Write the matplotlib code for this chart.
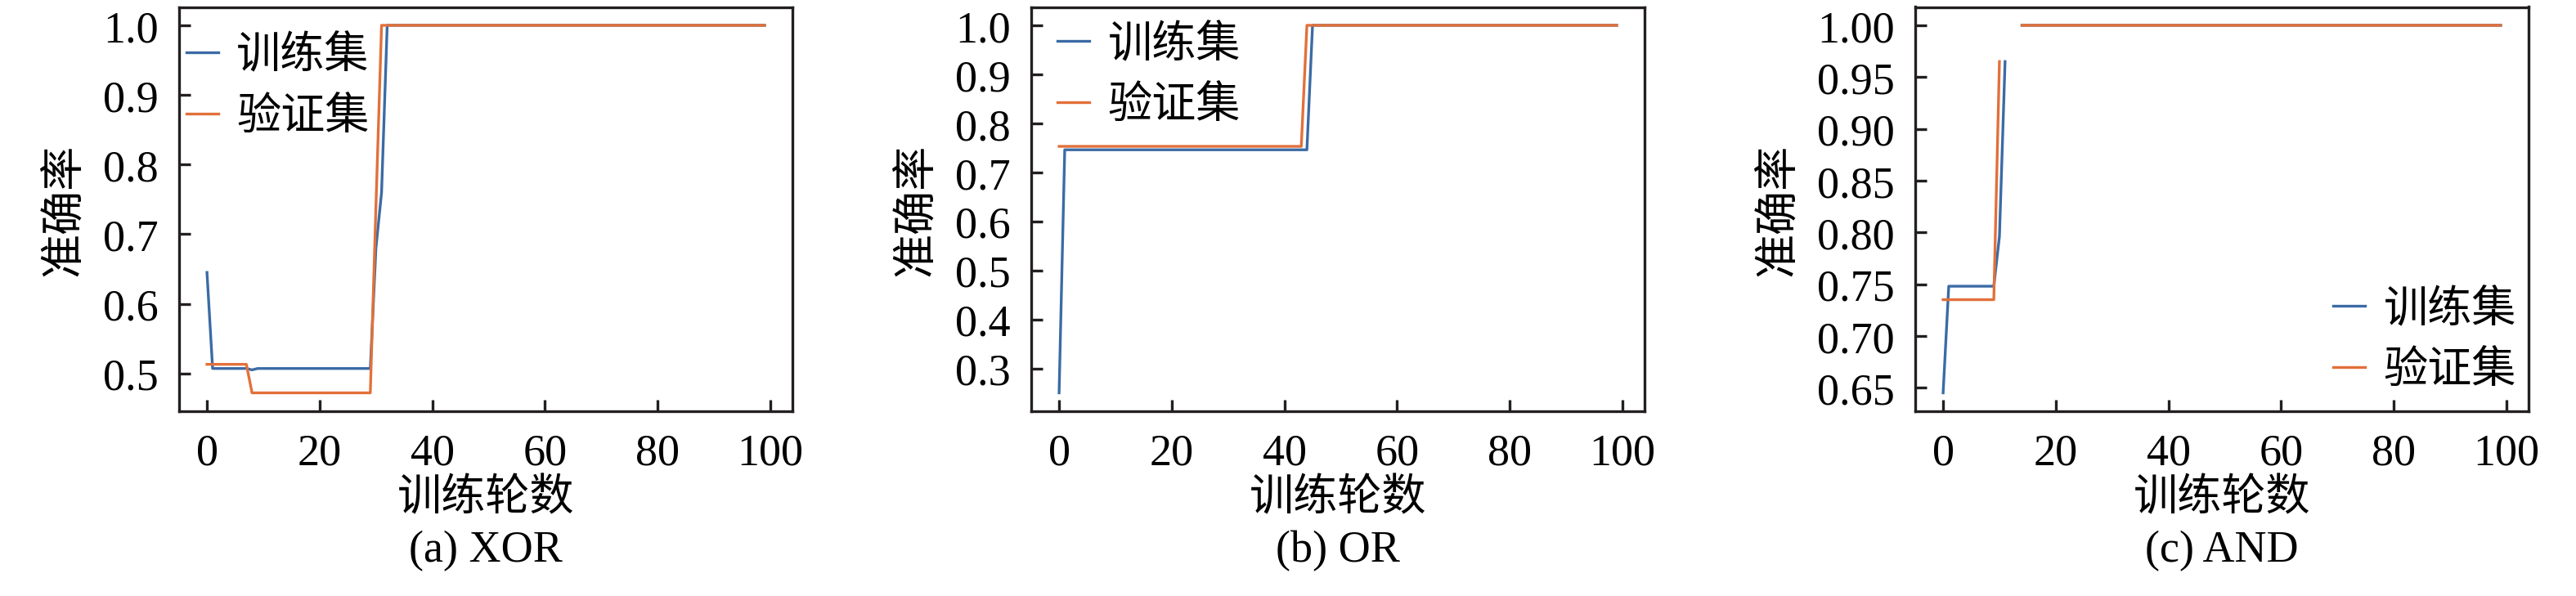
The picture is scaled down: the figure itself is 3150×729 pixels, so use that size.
import matplotlib
matplotlib.use('Agg')
import matplotlib.pyplot as plt

plt.rcParams['font.family'] = ['Liberation Serif', 'Noto Sans CJK SC']
plt.rcParams['font.size'] = 13
plt.rcParams['axes.unicode_minus'] = False

nan = float('nan')
epochs = list(range(100))

xor_train = [0.645, 0.507, 0.507, 0.507, 0.507, 0.507, 0.507, 0.507, 0.505, 0.507,
             0.507, 0.507, 0.507, 0.507, 0.507, 0.507, 0.507, 0.507, 0.507, 0.507,
             0.507, 0.507, 0.507, 0.507, 0.507, 0.507, 0.507, 0.507, 0.507, 0.507,
             0.68, 0.76, 1.0, 1.0, 1.0, 1.0, 1.0, 1.0, 1.0, 1.0,
             1.0, 1.0, 1.0, 1.0, 1.0, 1.0, 1.0, 1.0, 1.0, 1.0,
             1.0, 1.0, 1.0, 1.0, 1.0, 1.0, 1.0, 1.0, 1.0, 1.0,
             1.0, 1.0, 1.0, 1.0, 1.0, 1.0, 1.0, 1.0, 1.0, 1.0,
             1.0, 1.0, 1.0, 1.0, 1.0, 1.0, 1.0, 1.0, 1.0, 1.0,
             1.0, 1.0, 1.0, 1.0, 1.0, 1.0, 1.0, 1.0, 1.0, 1.0,
             1.0, 1.0, 1.0, 1.0, 1.0, 1.0, 1.0, 1.0, 1.0, 1.0]
xor_val = [0.513, 0.513, 0.513, 0.513, 0.513, 0.513, 0.513, 0.513, 0.472, 0.472,
           0.472, 0.472, 0.472, 0.472, 0.472, 0.472, 0.472, 0.472, 0.472, 0.472,
           0.472, 0.472, 0.472, 0.472, 0.472, 0.472, 0.472, 0.472, 0.472, 0.472,
           0.74, 1.0, 1.0, 1.0, 1.0, 1.0, 1.0, 1.0, 1.0, 1.0,
           1.0, 1.0, 1.0, 1.0, 1.0, 1.0, 1.0, 1.0, 1.0, 1.0,
           1.0, 1.0, 1.0, 1.0, 1.0, 1.0, 1.0, 1.0, 1.0, 1.0,
           1.0, 1.0, 1.0, 1.0, 1.0, 1.0, 1.0, 1.0, 1.0, 1.0,
           1.0, 1.0, 1.0, 1.0, 1.0, 1.0, 1.0, 1.0, 1.0, 1.0,
           1.0, 1.0, 1.0, 1.0, 1.0, 1.0, 1.0, 1.0, 1.0, 1.0,
           1.0, 1.0, 1.0, 1.0, 1.0, 1.0, 1.0, 1.0, 1.0, 1.0]

or_train = [0.25, 0.746, 0.746, 0.746, 0.746, 0.746, 0.746, 0.746, 0.746, 0.746,
            0.746, 0.746, 0.746, 0.746, 0.746, 0.746, 0.746, 0.746, 0.746, 0.746,
            0.746, 0.746, 0.746, 0.746, 0.746, 0.746, 0.746, 0.746, 0.746, 0.746,
            0.746, 0.746, 0.746, 0.746, 0.746, 0.746, 0.746, 0.746, 0.746, 0.746,
            0.746, 0.746, 0.746, 0.746, 0.746, 1.0, 1.0, 1.0, 1.0, 1.0,
            1.0, 1.0, 1.0, 1.0, 1.0, 1.0, 1.0, 1.0, 1.0, 1.0,
            1.0, 1.0, 1.0, 1.0, 1.0, 1.0, 1.0, 1.0, 1.0, 1.0,
            1.0, 1.0, 1.0, 1.0, 1.0, 1.0, 1.0, 1.0, 1.0, 1.0,
            1.0, 1.0, 1.0, 1.0, 1.0, 1.0, 1.0, 1.0, 1.0, 1.0,
            1.0, 1.0, 1.0, 1.0, 1.0, 1.0, 1.0, 1.0, 1.0, 1.0]
or_val = [0.753, 0.753, 0.753, 0.753, 0.753, 0.753, 0.753, 0.753, 0.753, 0.753,
          0.753, 0.753, 0.753, 0.753, 0.753, 0.753, 0.753, 0.753, 0.753, 0.753,
          0.753, 0.753, 0.753, 0.753, 0.753, 0.753, 0.753, 0.753, 0.753, 0.753,
          0.753, 0.753, 0.753, 0.753, 0.753, 0.753, 0.753, 0.753, 0.753, 0.753,
          0.753, 0.753, 0.753, 0.753, 1.0, 1.0, 1.0, 1.0, 1.0, 1.0,
          1.0, 1.0, 1.0, 1.0, 1.0, 1.0, 1.0, 1.0, 1.0, 1.0,
          1.0, 1.0, 1.0, 1.0, 1.0, 1.0, 1.0, 1.0, 1.0, 1.0,
          1.0, 1.0, 1.0, 1.0, 1.0, 1.0, 1.0, 1.0, 1.0, 1.0,
          1.0, 1.0, 1.0, 1.0, 1.0, 1.0, 1.0, 1.0, 1.0, 1.0,
          1.0, 1.0, 1.0, 1.0, 1.0, 1.0, 1.0, 1.0, 1.0, 1.0]

and_train = [0.645, 0.748, 0.748, 0.748, 0.748, 0.748, 0.748, 0.748, 0.748, 0.748,
             0.796, 0.965, nan, nan, 1.0, 1.0, 1.0, 1.0, 1.0, 1.0,
             1.0, 1.0, 1.0, 1.0, 1.0, 1.0, 1.0, 1.0, 1.0, 1.0,
             1.0, 1.0, 1.0, 1.0, 1.0, 1.0, 1.0, 1.0, 1.0, 1.0,
             1.0, 1.0, 1.0, 1.0, 1.0, 1.0, 1.0, 1.0, 1.0, 1.0,
             1.0, 1.0, 1.0, 1.0, 1.0, 1.0, 1.0, 1.0, 1.0, 1.0,
             1.0, 1.0, 1.0, 1.0, 1.0, 1.0, 1.0, 1.0, 1.0, 1.0,
             1.0, 1.0, 1.0, 1.0, 1.0, 1.0, 1.0, 1.0, 1.0, 1.0,
             1.0, 1.0, 1.0, 1.0, 1.0, 1.0, 1.0, 1.0, 1.0, 1.0,
             1.0, 1.0, 1.0, 1.0, 1.0, 1.0, 1.0, 1.0, 1.0, 1.0]
and_val = [0.735, 0.735, 0.735, 0.735, 0.735, 0.735, 0.735, 0.735, 0.735, 0.735,
           0.965, nan, nan, nan, 1.0, 1.0, 1.0, 1.0, 1.0, 1.0,
           1.0, 1.0, 1.0, 1.0, 1.0, 1.0, 1.0, 1.0, 1.0, 1.0,
           1.0, 1.0, 1.0, 1.0, 1.0, 1.0, 1.0, 1.0, 1.0, 1.0,
           1.0, 1.0, 1.0, 1.0, 1.0, 1.0, 1.0, 1.0, 1.0, 1.0,
           1.0, 1.0, 1.0, 1.0, 1.0, 1.0, 1.0, 1.0, 1.0, 1.0,
           1.0, 1.0, 1.0, 1.0, 1.0, 1.0, 1.0, 1.0, 1.0, 1.0,
           1.0, 1.0, 1.0, 1.0, 1.0, 1.0, 1.0, 1.0, 1.0, 1.0,
           1.0, 1.0, 1.0, 1.0, 1.0, 1.0, 1.0, 1.0, 1.0, 1.0,
           1.0, 1.0, 1.0, 1.0, 1.0, 1.0, 1.0, 1.0, 1.0, 1.0]

x_ticks = [0, 20, 40, 60, 80, 100]
xor_yticks = [0.5, 0.6, 0.7, 0.8, 0.9, 1.0]
xor_ylabels = ['0.5', '0.6', '0.7', '0.8', '0.9', '1.0']
or_yticks = [0.3, 0.4, 0.5, 0.6, 0.7, 0.8, 0.9, 1.0]
or_ylabels = ['0.3', '0.4', '0.5', '0.6', '0.7', '0.8', '0.9', '1.0']
and_yticks = [0.65, 0.70, 0.75, 0.80, 0.85, 0.90, 0.95, 1.00]
and_ylabels = ['0.65', '0.70', '0.75', '0.80', '0.85', '0.90', '0.95', '1.00']

captions = ['(a) XOR', '(b) OR', '(c) AND']
series_labels = ['训练集', '验证集']
x_label = '训练轮数'
y_label = '准确率'

BLUE = '#3b6ba5'
ORANGE = '#e2703a'
DARK = '#231f20'

W, H = 3150, 730
fig = plt.figure(figsize=(W / 300, H / 300), dpi=300)

panels = [
    (xor_train, xor_val, xor_yticks, xor_ylabels),
    (or_train, or_val, or_yticks, or_ylabels),
    (and_train, and_val, and_yticks, and_ylabels),
]
lefts_px = [219, 1261, 2342]
ax_w_px = 750
top_px, bot_px = 9.5, 504

legend_specs = [
    dict(loc='upper left', bbox_to_anchor=(0.012, 0.928)),
    dict(loc='upper left', bbox_to_anchor=(0.043, 0.955)),
    dict(loc='lower right', bbox_to_anchor=(0.98, 0.0465)),
]

for i, (tr, va, yt, yl) in enumerate(panels):
    l = lefts_px[i]
    ax = fig.add_axes([l / W, (H - bot_px) / H, ax_w_px / W, (bot_px - top_px) / H])
    ax.plot(epochs, tr, color=BLUE, lw=0.8, label=series_labels[0])
    ax.plot(epochs, va, color=ORANGE, lw=0.8, label=series_labels[1])
    ax.set_xticks(x_ticks)
    ax.set_yticks(yt)
    ax.set_yticklabels(yl)
    ax.tick_params(direction='in', length=3.3, width=0.8, colors=DARK,
                   labelcolor='black', labelsize=13)
    ax.tick_params(axis='x', pad=6.3)
    ax.tick_params(axis='y', pad=6)
    for s in ax.spines.values():
        s.set_linewidth(0.8)
        s.set_color(DARK)
    ax.set_xlabel(x_label, labelpad=1.3)
    ax.set_ylabel(y_label, labelpad=5)
    ax.legend(frameon=False, handlelength=0.72, handletextpad=0.41,
              labelspacing=0.45, borderpad=0.0, borderaxespad=0.0,
              fontsize=13, **legend_specs[i])
    fig.text((l + ax_w_px / 2) / W, (H - 687) / H, captions[i],
             ha='center', va='baseline', fontsize=13)

fig.savefig('out.png', dpi=300)
